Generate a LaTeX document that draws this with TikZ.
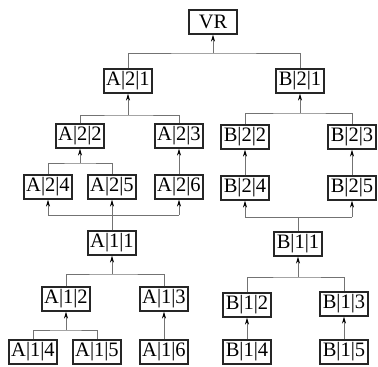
\documentclass[tikz,border=0pt]{standalone}
\usepackage{fontspec}
\setmainfont{Liberation Serif}
\usetikzlibrary{arrows.meta}
\begin{document}
\begin{tikzpicture}[x=1pt,y=-1pt,
  box/.style={draw=black!85,line width=1.3pt,minimum width=48pt,minimum height=24pt,inner sep=0pt,font=\fontsize{20.5}{20.5}\selectfont},
  wire/.style={draw=black!55,line width=0.7pt},
  arr/.style={wire,-{Stealth[length=7pt,width=4pt,black]}}]
\useasboundingbox (0,0) rectangle (378,367);
% nodes
\node[box] (VR) at (213,22) {VR};
\node[box] (A21) at (128,81) {A|2|1};
\node[box] (B21) at (300,81) {B|2|1};
\node[box] (A22) at (80,136) {A|2|2};
\node[box] (A23) at (179,136) {A|2|3};
\node[box] (B22) at (245,137) {B|2|2};
\node[box] (B23) at (352,137) {B|2|3};
\node[box] (A24) at (48,187) {A|2|4};
\node[box] (A25) at (112,187) {A|2|5};
\node[box] (A26) at (179,187) {A|2|6};
\node[box] (B24) at (245,188) {B|2|4};
\node[box] (B25) at (352,188) {B|2|5};
\node[box] (A11) at (112,243) {A|1|1};
\node[box] (B11) at (298,244) {B|1|1};
\node[box] (A12) at (66,299) {A|1|2};
\node[box] (A13) at (164,299) {A|1|3};
\node[box] (B12) at (247,305) {B|1|2};
\node[box] (B13) at (344,304) {B|1|3};
\node[box] (A14) at (33,352) {A|1|4};
\node[box] (A15) at (97,352) {A|1|5};
\node[box] (A16) at (164,352) {A|1|6};
\node[box] (B14) at (247,352) {B|1|4};
\node[box] (B15) at (344,352) {B|1|5};
% bus coordinates
\coordinate (b0) at (213,53);
\coordinate (b1) at (128,115);
\coordinate (b2) at (300,113);
\coordinate (b3) at (80,163);
\coordinate (b4) at (112,215);
\coordinate (b5) at (298,217);
\coordinate (b6) at (112,274);
\coordinate (b7) at (298,277);
\coordinate (b8) at (66,330);
% connectors
\draw[wire] (A21.north) |- (b0) -| (B21.north);
\draw[arr] (b0) -- (VR.south);
\draw[wire] (A22.north) |- (b1) -| (A23.north);
\draw[arr] (b1) -- (A21.south);
\draw[wire] (B22.north) |- (b2) -| (B23.north);
\draw[arr] (b2) -- (B21.south);
\draw[wire] (A24.north) |- (b3) -| (A25.north);
\draw[arr] (b3) -- (A22.south);
\draw[arr] (A26.north) -- (A23.south);
\draw[arr] (B24.north) -- (B22.south);
\draw[arr] (B25.north) -- (B23.south);
% A11 to row of A24..A26
\draw[wire] (A11.north) -- (b4);
\draw[wire] (b4 -| A24.south) -- (b4 -| A26.south);
\draw[arr] (b4 -| A24.south) -- (A24.south);
\draw[arr] (b4) -- (A25.south);
\draw[arr] (b4 -| A26.south) -- (A26.south);
% B11 to B24, B25
\draw[wire] (B11.north) -- (b5);
\draw[wire] (b5 -| B24.south) -- (b5 -| B25.south);
\draw[arr] (b5 -| B24.south) -- (B24.south);
\draw[arr] (b5 -| B25.south) -- (B25.south);
% lower A tree
\draw[wire] (A12.north) |- (b6) -| (A13.north);
\draw[arr] (b6) -- (A11.south);
\draw[wire] (B12.north) |- (b7) -| (B13.north);
\draw[arr] (b7) -- (B11.south);
\draw[wire] (A14.north) |- (b8) -| (A15.north);
\draw[arr] (b8) -- (A12.south);
\draw[arr] (A16.north) -- (A13.south);
\draw[arr] (B14.north) -- (B12.south);
\draw[arr] (B15.north) -- (B13.south);
\end{tikzpicture}
\end{document}
